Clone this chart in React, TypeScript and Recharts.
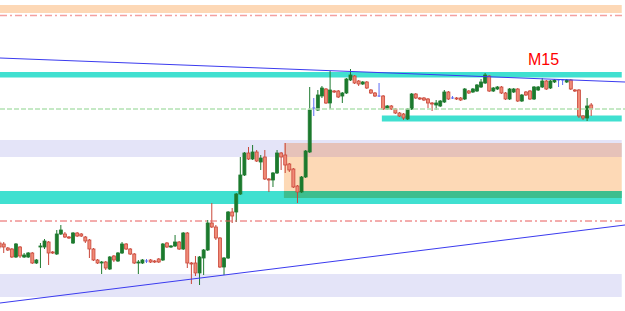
import React from 'react';
import { ComposedChart, Bar, XAxis, YAxis, ReferenceArea, ReferenceLine } from 'recharts';

// M15 candles, prices in points (index = bar number)
const opens = [
  68, 67, 63, 62, 54, 64, 54, 54, 58, 48, 64, 64, 69, 59, 57, 77, 77, 74, 68, 78,
  77, 74, 71, 62, 51, 48, 49, 42, 55, 50, 58, 67, 62, 57, 48, 48, 50, 51, 50, 52,
  51, 68, 64, 65, 69, 62, 78, 48, 48, 38, 53, 61, 88, 84, 73, 44, 53, 99, 99, 117,
  136, 158, 152, 159, 149, 154, 132, 131, 138, 158, 156, 147, 142, 125, 119, 134, 159, 203, 201, 215,
  222, 208, 220, 220, 215, 218, 231, 235, 230, 227, 229, 221, 218, 215, 215, 202, 205, 202, 198, 197,
  192, 202, 217, 213, 213, 212, 208, 206, 205, 209, 219, 213, 213, 213, 212, 220, 219, 220, 224, 228,
  235, 220, 222, 224, 218, 212, 219, 222, 210, 219, 220, 212, 221, 224, 230, 223, 229, 231, 231, 229,
  231, 221, 221, 195, 193, 206,
];
const highs = [
  70, 69, 64, 63, 68, 65, 58, 59, 59, 52, 68, 72, 70, 60, 81, 86, 79, 75, 79, 79,
  78, 75, 72, 63, 52, 50, 50, 55, 56, 59, 69, 68, 63, 58, 51, 52, 52, 52, 51, 53,
  68, 69, 66, 76, 70, 79, 79, 49, 55, 55, 62, 91, 108, 86, 74, 54, 100, 103, 118, 154,
  159, 164, 166, 161, 156, 161, 133, 139, 161, 159, 168, 148, 143, 126, 135, 161, 224, 213, 221, 225,
  223, 240, 221, 221, 219, 233, 242, 236, 231, 230, 230, 222, 219, 228, 216, 206, 206, 203, 199, 198,
  203, 218, 218, 214, 214, 213, 209, 211, 211, 221, 220, 215, 214, 214, 223, 221, 223, 227, 232, 238,
  236, 224, 225, 225, 219, 223, 223, 223, 217, 220, 221, 225, 225, 233, 231, 231, 232, 232, 232, 232,
  232, 222, 222, 196, 213, 208,
];
const lows = [
  62, 58, 60, 53, 53, 53, 53, 53, 47, 47, 43, 62, 46, 57, 56, 76, 73, 72, 67, 74,
  74, 68, 53, 50, 47, 37, 41, 41, 49, 49, 57, 61, 56, 47, 37, 47, 48, 48, 48, 48,
  50, 63, 63, 64, 61, 61, 43, 27, 35, 26, 36, 60, 83, 71, 43, 36, 52, 88, 89, 116,
  135, 151, 151, 149, 141, 131, 119, 124, 137, 141, 138, 139, 123, 108, 118, 133, 158, 195, 200, 213,
  207, 202, 218, 213, 208, 217, 230, 227, 225, 226, 222, 217, 214, 214, 201, 201, 201, 197, 194, 191,
  191, 201, 212, 211, 210, 203, 200, 201, 204, 208, 211, 212, 211, 210, 211, 217, 218, 219, 223, 227,
  219, 219, 221, 217, 211, 211, 218, 209, 209, 215, 211, 211, 220, 223, 221, 222, 228, 224, 226, 228,
  221, 219, 193, 191, 190, 195,
];
const closes = [
  64, 64, 61, 54, 67, 55, 56, 58, 48, 51, 65, 70, 58, 58, 77, 81, 74, 73, 78, 75,
  75, 70, 62, 51, 48, 49, 43, 54, 51, 58, 67, 62, 57, 48, 49, 51, 50, 49, 49, 49,
  67, 64, 65, 69, 62, 78, 48, 47, 38, 54, 61, 88, 84, 73, 44, 53, 99, 95, 117, 136,
  158, 152, 159, 150, 153, 132, 131, 138, 158, 154, 146, 141, 124, 119, 134, 160, 201, 203, 216, 223,
  208, 221, 219, 214, 218, 232, 236, 228, 227, 229, 223, 218, 215, 215, 202, 205, 202, 198, 195, 193,
  202, 217, 213, 212, 211, 208, 207, 208, 210, 219, 212, 213, 212, 211, 222, 218, 222, 226, 229, 236,
  220, 223, 224, 218, 212, 222, 222, 210, 216, 216, 212, 224, 224, 230, 222, 230, 231, 231, 231, 231,
  222, 220, 195, 193, 205, 202,
];

// levels drawn on the chart (points)
const peachBand = [298, 306];
const upperCyan = [233.5, 239];
const midLavender = [154, 171];
const lowerCyan = [107, 120];
const lowLavender = [14, 37];
const rangeCyan = [189.5, 195.5];
const zoneRose = [154, 168];
const zoneOrange = [120, 154];
const zoneOverlap = [113, 120];
const redDashTop = 295.5;
const redDashLow = 90;
const greenDash = 202;
const upperTrend = [253, 229];
const lowerTrend = [8, 86];

// bar positions
const xDomain = [0.2, 153.4];
const bandEnd = 152.6;
const zoneStart = 69.8;
const rangeStart = 93.8;

const candles = opens.map((o, i) => ({
  t: i,
  open: o,
  high: highs[i],
  low: lows[i],
  close: closes[i],
  range: [lows[i], highs[i]],
}));

const CandleShape = (props: any) => {
  const { x, y, width, height, payload } = props;
  if (x == null || !payload) return null;
  const { open, close, high, low } = payload;
  const top = Math.min(y, y + height);
  const h = Math.abs(height);
  const span = high - low;
  const toPx = (v: number) => (span === 0 ? top : top + ((high - v) / span) * h);
  const cx = x + width / 2;
  const up = close > open;
  const doji = close === open;
  const edge = doji ? '#5b6cf5' : up ? '#1f7a30' : '#c9473a';
  const bodyTop = toPx(Math.max(open, close));
  const bodyH = Math.max(1, toPx(Math.min(open, close)) - bodyTop);
  return (
    <g>
      <line x1={cx} x2={cx} y1={top} y2={top + h} stroke={edge} strokeWidth={1} />
      {doji ? (
        <line x1={cx - 1.5} x2={cx + 1.5} y1={bodyTop} y2={bodyTop} stroke={edge} strokeWidth={1} />
      ) : (
        <rect
          x={cx - 1.5}
          y={bodyTop}
          width={3}
          height={bodyH}
          fill={up ? '#1b7a2d' : '#f08a76'}
          stroke={edge}
          strokeWidth={0.8}
        />
      )}
    </g>
  );
};

export default function App() {
  return (
    <div style={{ position: 'absolute', left: 0, top: 0, width: 625, height: 311, background: '#fff' }}>
      <ComposedChart width={625} height={311} data={candles} margin={{ top: 0, right: 0, bottom: 0, left: 0 }}>
        <XAxis type="number" dataKey="t" domain={xDomain} allowDataOverflow hide />
        <YAxis type="number" domain={[0, 311]} allowDataOverflow hide />

        <ReferenceArea x2={bandEnd} y1={peachBand[0]} y2={peachBand[1]} fill="#fdd8b6" fillOpacity={1} stroke="none" />
        <ReferenceArea x2={bandEnd} y1={midLavender[0]} y2={midLavender[1]} fill="#e4e4f8" fillOpacity={1} stroke="none" />
        <ReferenceArea x2={bandEnd} y1={lowLavender[0]} y2={lowLavender[1]} fill="#e4e4f8" fillOpacity={1} stroke="none" />
        <ReferenceArea x1={zoneStart} x2={bandEnd} y1={zoneRose[0]} y2={zoneRose[1]} fill="#e6c2b9" fillOpacity={1} stroke="none" />
        <ReferenceArea x1={zoneStart} x2={bandEnd} y1={zoneOrange[0]} y2={zoneOrange[1]} fill="#fdd9b6" fillOpacity={1} stroke="none" />
        <ReferenceArea x2={bandEnd} y1={lowerCyan[0]} y2={lowerCyan[1]} fill="#40e0d0" fillOpacity={1} stroke="none" />
        <ReferenceArea x1={zoneStart} x2={bandEnd} y1={zoneOverlap[0]} y2={zoneOverlap[1]} fill="#3dbe8e" fillOpacity={1} stroke="none" />
        <ReferenceArea x2={bandEnd} y1={upperCyan[0]} y2={upperCyan[1]} fill="#40e0d0" fillOpacity={1} stroke="none" />
        <ReferenceArea x1={rangeStart} x2={bandEnd} y1={rangeCyan[0]} y2={rangeCyan[1]} fill="#40e0d0" fillOpacity={1} stroke="none" />

        <ReferenceLine y={redDashTop} stroke="#f4a0a0" strokeWidth={1.5} strokeDasharray="7 3 2 3" />
        <ReferenceLine y={redDashLow} stroke="#e85a5a" strokeWidth={1} strokeDasharray="7 3 2 3" />
        <ReferenceLine y={greenDash} stroke="#b3e2b3" strokeWidth={1.5} strokeDasharray="5 2" />

        <Bar dataKey="range" barSize={3} isAnimationActive={false} shape={(p: any) => <CandleShape {...p} />} />

        <ReferenceLine
          segment={[{ x: xDomain[0], y: upperTrend[0] }, { x: xDomain[1], y: upperTrend[1] }]}
          stroke="#3b3bef"
          strokeWidth={1}
          ifOverflow="visible"
        />
        <ReferenceLine
          segment={[{ x: xDomain[0], y: lowerTrend[0] }, { x: xDomain[1], y: lowerTrend[1] }]}
          stroke="#3b3bef"
          strokeWidth={1}
          ifOverflow="visible"
        />
      </ComposedChart>
      <div
        style={{
          position: 'absolute',
          left: 528,
          top: 52,
          fontFamily: '"Liberation Sans", Arial, sans-serif',
          fontSize: 16,
          lineHeight: '16px',
          color: '#ff0000',
        }}
      >
        M15
      </div>
    </div>
  );
}
